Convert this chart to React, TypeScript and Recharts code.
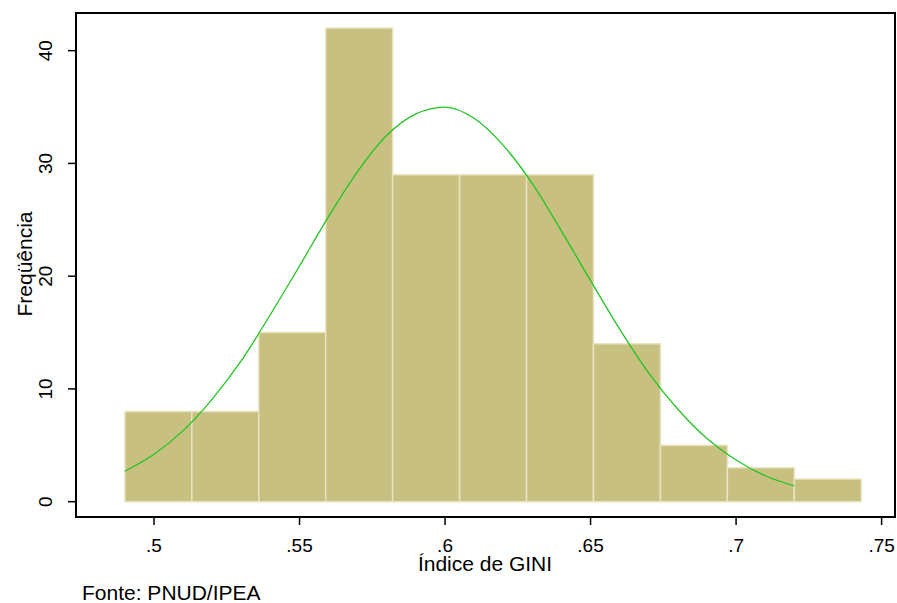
import React from "react";
import {
  ComposedChart,
  Line,
  XAxis,
  YAxis,
  ReferenceArea,
} from "recharts";

// histogram bins (lower edges + last upper edge) and frequencies
const binEdges = [0.49, 0.513, 0.536, 0.559, 0.582, 0.605, 0.628, 0.651, 0.674, 0.697, 0.72, 0.743];
const counts = [8, 8, 15, 42, 29, 29, 29, 14, 5, 3, 2];

// normal curve
const curveX = [
  0.49, 0.5, 0.51, 0.52, 0.53, 0.54, 0.55, 0.56, 0.57, 0.58, 0.59, 0.6,
  0.61, 0.62, 0.63, 0.64, 0.65, 0.66, 0.67, 0.68, 0.69, 0.7, 0.71, 0.72,
];
const curveY = [
  2.7, 4.2, 6.3, 9.1, 12.5, 16.6, 20.9, 25.3, 29.3, 32.5, 34.4, 35.0,
  34.0, 31.6, 28.2, 24.0, 19.6, 15.3, 11.4, 8.2, 5.6, 3.7, 2.3, 1.4,
];

const xTicks = [0.5, 0.55, 0.6, 0.65, 0.7, 0.75];
const yTicks = [0, 10, 20, 30, 40];

const xDomain = [0.4732, 0.7546];
const yDomain = [-1.36, 43.34];

const FONT = "'Liberation Sans', Arial, sans-serif";

const curveData = curveX.map((x, i) => ({ x, y: curveY[i] }));

const YTick = (props: any) => {
  const { x, y, payload } = props;
  return (
    <text
      x={x}
      y={y}
      transform={`rotate(-90 ${x} ${y})`}
      textAnchor="middle"
      fontSize={19}
      fontFamily={FONT}
      fill="#000"
    >
      {payload.value}
    </text>
  );
};

const App = () => {
  return (
    <div style={{ position: "absolute", left: 0, top: 0, width: 897, height: 603, background: "#fff" }}>
      <ComposedChart
        width={897}
        height={603}
        data={curveData}
        margin={{ top: 13, right: 2, left: 16, bottom: 46 }}
      >
        <XAxis
          dataKey="x"
          type="number"
          domain={xDomain}
          ticks={xTicks}
          allowDataOverflow
          height={40}
          tickSize={8}
          tickMargin={14}
          tickFormatter={(v: number) => String(v).replace(/^0/, "")}
          tick={{ fontSize: 19, fontFamily: FONT, fill: "#000" }}
          axisLine={{ stroke: "#000", strokeWidth: 2 }}
          tickLine={{ stroke: "#000", strokeWidth: 1.5 }}
        />
        <YAxis
          type="number"
          domain={yDomain}
          ticks={yTicks}
          allowDataOverflow
          width={60}
          tickSize={8}
          tickMargin={16}
          tick={<YTick />}
          axisLine={{ stroke: "#000", strokeWidth: 2 }}
          tickLine={{ stroke: "#000", strokeWidth: 1.5 }}
        />
        <ReferenceArea
          x1={xDomain[0]}
          x2={xDomain[1]}
          y1={yDomain[0]}
          y2={yDomain[1]}
          fill="none"
          fillOpacity={0}
          stroke="#000"
          strokeWidth={2}
        />
        {counts.map((c, i) => (
          <ReferenceArea
            key={i}
            x1={binEdges[i]}
            x2={binEdges[i + 1]}
            y1={0}
            y2={c}
            fill="#c8c080"
            fillOpacity={1}
            stroke="#e8e4c0"
            strokeWidth={1.5}
          />
        ))}
        <Line
          dataKey="y"
          type="monotone"
          stroke="#22c422"
          strokeWidth={1.3}
          dot={false}
          isAnimationActive={false}
        />
      </ComposedChart>
      <div
        style={{
          position: "absolute",
          left: 24,
          top: 264,
          transform: "translate(-50%, -50%) rotate(-90deg)",
          fontFamily: FONT,
          fontSize: 21,
          lineHeight: 1,
          whiteSpace: "nowrap",
        }}
      >
        Freqüência
      </div>
      <div
        style={{
          position: "absolute",
          left: 485,
          top: 553,
          transform: "translateX(-50%)",
          fontFamily: FONT,
          fontSize: 21,
          lineHeight: 1,
          whiteSpace: "nowrap",
        }}
      >
        Índice de GINI
      </div>
      <div
        style={{
          position: "absolute",
          left: 82,
          top: 582,
          fontFamily: FONT,
          fontSize: 21,
          lineHeight: 1,
          whiteSpace: "nowrap",
        }}
      >
        Fonte: PNUD/IPEA
      </div>
    </div>
  );
};

export default App;
